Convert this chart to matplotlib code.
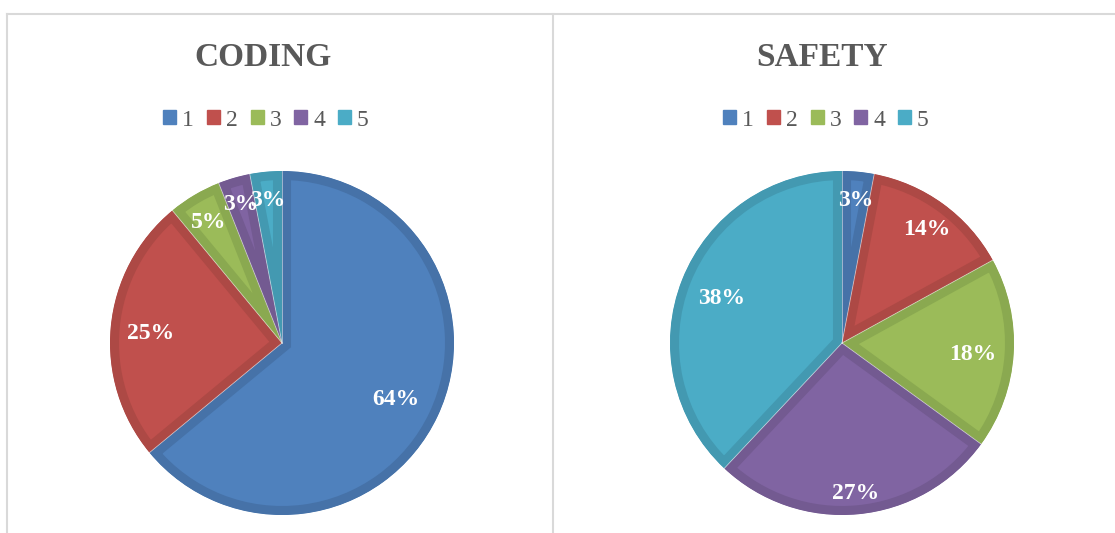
import matplotlib.pyplot as plt
import matplotlib.patches as mpatches
from matplotlib.lines import Line2D
import numpy as np

labels = ["1", "2", "3", "4", "5"]
coding = [64, 25, 5, 3, 3]
safety = [3, 14, 18, 27, 38]

colors = ["#4F81BD", "#C0504D", "#9BBB59", "#8064A2", "#4BACC6"]
edges = ["#4672A8", "#AD4945", "#8AA950", "#735A91", "#4399B1"]

# label distance from the centre, per slice (Excel "best fit")
coding_dist = [0.73, 0.77, 0.84, 0.86, 0.85]
safety_dist = [0.85, 0.84, 0.76, 0.86, 0.75]

W, H = 1115, 533
fig = plt.figure(figsize=(W / 100, H / 100), dpi=100)

# chart borders
border = "#D9D9D9"
fig.add_artist(Line2D([7 / W, 7 / W], [0, 1 - 14 / H], color=border, lw=1.5))
fig.add_artist(Line2D([7 / W, 1], [1 - 14 / H, 1 - 14 / H], color=border, lw=1.5))
fig.add_artist(Line2D([553 / W, 553 / W], [0, 1 - 14 / H], color=border, lw=1.5))


def draw_pie(cx, cy, r, values, dists, title, tx, lx):
    ax = fig.add_axes([(cx - r) / W, (H - cy - r) / H, 2 * r / W, 2 * r / H])
    wedges, _ = ax.pie(values, colors=colors, startangle=90, counterclock=False,
                       radius=1.0, wedgeprops=dict(edgecolor="none"))
    for w, ec in zip(wedges, edges):
        clip = mpatches.Wedge(w.center, w.r, w.theta1, w.theta2,
                              transform=ax.transData)
        w.set_edgecolor(ec)
        w.set_linewidth(13)
        w.set_clip_on(True)
        w.set_clip_path(clip)
    ax.set_xlim(-1, 1)
    ax.set_ylim(-1, 1)
    ax.axis("off")
    total = sum(values)
    start = 90.0
    for v, d in zip(values, dists):
        a0 = np.deg2rad(start)
        ax.plot([0, np.cos(a0)], [0, np.sin(a0)], color="#F2F2F2", lw=0.6,
                alpha=0.6)
        mid = start - 360.0 * v / total / 2
        a = np.deg2rad(mid)
        ax.text(d * np.cos(a), d * np.sin(a) - 0.02, f"{round(100 * v / total)}%",
                ha="center", va="center", color="white", fontsize=17,
                fontweight="bold", family="Liberation Serif")
        start -= 360.0 * v / total
    fig.text(tx / W, 1 - 57 / H, title, ha="center", va="center", fontsize=24,
             fontweight="bold", color="#595959", family="Liberation Serif")
    handles = [mpatches.Patch(color=c) for c in colors]
    fig.legend(handles, labels, loc="center", bbox_to_anchor=(lx / W, 1 - 120 / H),
               ncol=5, frameon=False, handlelength=0.55, handleheight=0.55,
               handletextpad=0.25, columnspacing=0.55,
               prop=dict(family="Liberation Serif", size=17),
               labelcolor="#595959")


draw_pie(282, 343, 172, coding, coding_dist, "CODING", 263, 266)
draw_pie(842, 343, 172, safety, safety_dist, "SAFETY", 822, 826)

fig.savefig("out.png", dpi=100)
